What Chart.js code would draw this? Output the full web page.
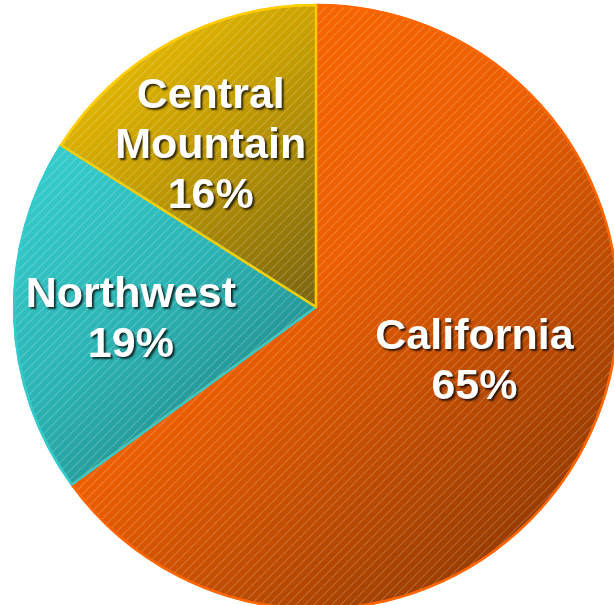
<!DOCTYPE html>
<html>
<head>
<meta charset="utf-8">
<script src="https://cdn.jsdelivr.net/npm/chart.js@4/dist/chart.umd.min.js"></script>
<style>
  html, body { margin: 0; padding: 0; background: #fff; overflow: hidden; }
  canvas { display: block; }
</style>
</head>
<body>
<canvas id="myChart" width="632" height="614"></canvas>
<script>
// regions and their share
var regions = ['California', 'Northwest', 'Central Mountain'];
var shares  = [65, 19, 16];
var labelLines = [['California', '65%'], ['Northwest', '19%'], ['Central', 'Mountain', '16%']];

// colours (light -> dark) for each slice
var lightCols  = ['#ff6a00', '#38d0d0', '#f6c800'];
var midCols    = ['#ec5e00', '#2cb4b4', '#c8a000'];
var darkCols   = ['#7a3000', '#1e7878', '#7a6410'];
var edgeCols   = ['#ff6600', '#33cccc', '#ffcc00'];
// nudge labels from the 0.6R centroid
var labelNudge = [[-3, -27], [-4, 7], [-18, -2]];

var total = shares.reduce(function(a, b){ return a + b; }, 0);

function sliceAngles(i){
  var before = 0;
  for (var k = 0; k < i; k++) before += shares[k];
  var s = -Math.PI / 2 + before / total * Math.PI * 2;
  var e = s + shares[i] / total * Math.PI * 2;
  return [s, e];
}

function sliceBox(cx, cy, r, s, e){
  var xs = [cx, cx + r * Math.cos(s), cx + r * Math.cos(e)];
  var ys = [cy, cy + r * Math.sin(s), cy + r * Math.sin(e)];
  for (var q = -4; q <= 8; q++){
    var a = q * Math.PI / 2;
    if (a > s && a < e){
      xs.push(cx + r * Math.cos(a));
      ys.push(cy + r * Math.sin(a));
    }
  }
  return [Math.min.apply(null, xs), Math.min.apply(null, ys), Math.max.apply(null, xs), Math.max.apply(null, ys)];
}

function sliceFill(ctx){
  var chart = ctx.chart;
  var i = ctx.dataIndex;
  var area = chart.chartArea;
  if (!area) return midCols[i];
  var cx = (area.left + area.right) / 2;
  var cy = (area.top + area.bottom) / 2;
  var r = 302;
  var ang = sliceAngles(i);
  var b = sliceBox(cx, cy, r, ang[0], ang[1]);
  var g = chart.ctx.createLinearGradient(b[0], b[1], b[2], b[3]);
  g.addColorStop(0, lightCols[i]);
  g.addColorStop(0.45, midCols[i]);
  g.addColorStop(1, darkCols[i]);
  return g;
}

var hatchAndLabels = {
  id: 'hatchAndLabels',
  afterDatasetsDraw: function(chart){
    var c = chart.ctx;
    var meta = chart.getDatasetMeta(0);
    meta.data.forEach(function(arc, i){
      var p = arc.getProps(['x', 'y', 'startAngle', 'endAngle', 'outerRadius'], true);
      c.save();
      c.beginPath();
      c.moveTo(p.x, p.y);
      c.arc(p.x, p.y, p.outerRadius, p.startAngle, p.endAngle);
      c.closePath();
      c.clip();
      c.strokeStyle = 'rgba(255,255,255,0.3)';
      c.lineWidth = 1;
      var W = chart.width, H = chart.height;
      c.beginPath();
      for (var k = 0; k < W + H; k += 9){
        c.moveTo(k + 0.5, 0);
        c.lineTo(k + 0.5 - H, H);
      }
      c.stroke();
      c.restore();
    });
    // edges on top of the hatch
    meta.data.forEach(function(arc, i){
      var p = arc.getProps(['x', 'y', 'startAngle', 'endAngle', 'outerRadius'], true);
      c.save();
      c.beginPath();
      c.moveTo(p.x, p.y);
      c.arc(p.x, p.y, p.outerRadius, p.startAngle, p.endAngle);
      c.closePath();
      c.lineJoin = 'round';
      c.lineWidth = 2.5;
      c.strokeStyle = edgeCols[i];
      c.stroke();
      c.restore();
    });
    // labels
    meta.data.forEach(function(arc, i){
      var p = arc.getProps(['x', 'y', 'startAngle', 'endAngle', 'outerRadius'], true);
      var mid = (p.startAngle + p.endAngle) / 2;
      var lx = p.x + Math.cos(mid) * p.outerRadius * 0.6 + labelNudge[i][0];
      var ly = p.y + Math.sin(mid) * p.outerRadius * 0.6 + labelNudge[i][1];
      var lines = labelLines[i];
      var lh = 50;
      c.save();
      c.font = 'bold 43px "Liberation Sans", Arial, sans-serif';
      c.textAlign = 'center';
      c.textBaseline = 'middle';
      c.fillStyle = '#ffffff';
      c.shadowColor = 'rgba(0,0,0,0.75)';
      c.shadowOffsetX = 2;
      c.shadowOffsetY = 2;
      c.shadowBlur = 2;
      lines.forEach(function(t, j){
        c.fillText(t, lx, ly + (j - (lines.length - 1) / 2) * lh);
      });
      c.restore();
    });
  }
};

var ctx = document.getElementById('myChart').getContext('2d');
var chart = new Chart(ctx, {
  type: 'pie',
  data: {
    labels: regions,
    datasets: [{
      data: shares,
      backgroundColor: sliceFill,
      borderColor: edgeCols,
      borderWidth: 2
    }]
  },
  options: {
    responsive: false,
    animation: false,
    devicePixelRatio: 1,
    radius: 302,
    layout: { padding: 3 },
    plugins: {
      legend: { display: false },
      tooltip: { enabled: false }
    },
    events: []
  },
  plugins: [hatchAndLabels]
});
</script>
</body>
</html>
